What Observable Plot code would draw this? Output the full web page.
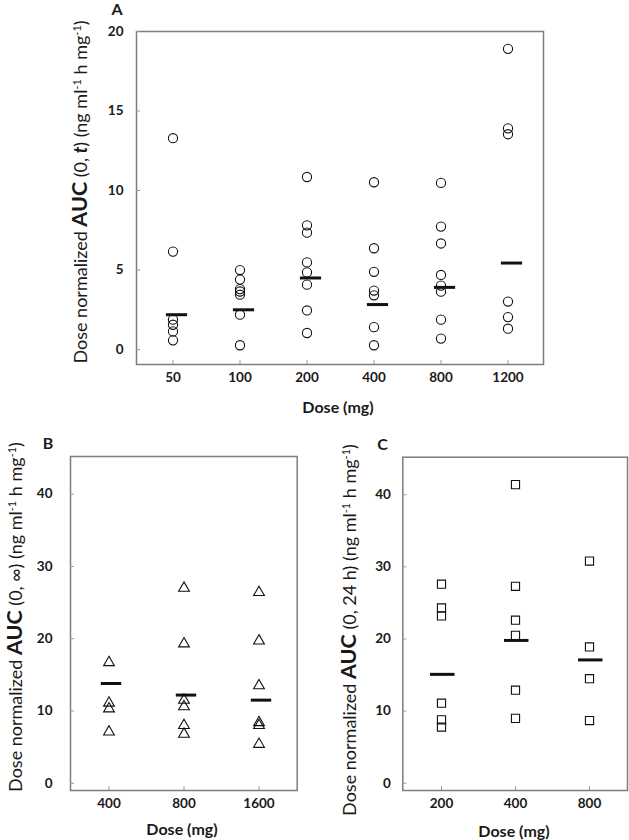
<!DOCTYPE html>
<html><head><meta charset="utf-8">
<script src="https://cdn.jsdelivr.net/npm/d3@7"></script>
<script src="https://cdn.jsdelivr.net/npm/@observablehq/plot@0.6"></script>
<style>
body{margin:0;background:#fff;}
#wrap{position:relative;width:629px;height:840px;font-family:Lato,sans-serif;}
#wrap svg{position:absolute;}
</style></head><body><div id="wrap"></div>
<script>
// ---- Data ----
const dosesA = ["50","100","200","400","800","1200"];
const aucA = [
  [13.29, 6.16, 1.88, 1.56, 1.14, 0.58],
  [5.0, 4.4, 3.8, 3.65, 3.45, 2.19, 0.27],
  [10.85, 7.81, 7.35, 5.48, 4.85, 4.08, 2.46, 1.04],
  [10.52, 6.37, 4.89, 3.71, 3.41, 1.41, 0.27],
  [10.48, 7.73, 6.67, 4.69, 4.02, 3.64, 1.88, 0.69],
  [18.91, 13.91, 13.54, 3.02, 2.04, 1.31]
];
const gmeanA = [2.19, 2.5, 4.5, 2.83, 3.91, 5.44];
const yTicksA = [0, 5, 10, 15, 20];

const dosesB = ["400","800","1600"];
const aucB = [
  [16.7, 11.1, 10.3, 7.1],
  [27.0, 19.3, 11.5, 10.6, 8.0, 6.8],
  [26.4, 19.7, 13.5, 8.4, 8.0, 5.4]
];
const gmeanB = [13.8, 12.2, 11.5];

const dosesC = ["200","400","800"];
const aucC = [
  [27.6, 24.3, 23.2, 11.1, 8.8, 7.8],
  [41.4, 27.3, 22.6, 20.5, 12.9, 9.0],
  [30.8, 18.9, 14.5, 8.7]
];
const gmeanC = [15.1, 19.8, 17.1];
const yTicksBC = [0, 10, 20, 30, 40];

const wrap = document.getElementById("wrap");
const INK = "#1a1a1a";

function panel(o) {
  const pts = o.doses.flatMap((d, i) => o.vals[i].map(v => ({dose: d, v})));
  const gms = o.doses.map((d, i) => ({dose: d, g: o.gm[i]}));
  const chart = Plot.plot({
    width: o.width, height: o.height,
    marginLeft: o.ml, marginRight: o.mr, marginTop: o.mt, marginBottom: o.mb,
    style: {fontFamily: "Lato, sans-serif", fontSize: "13.5px", color: INK, background: "transparent", overflow: "visible"},
    x: {type: "band", domain: o.doses, padding: 0, label: null},
    y: {domain: o.yDomain, label: null},
    marks: [
      Plot.frame({stroke: "#7d7d7d", strokeWidth: 1.5}),
      Plot.axisX({tickSize: 4, dy: -4, tickPadding: 8, stroke: "#9a9a9a", fill: INK, fontWeight: 700, label: null}),
      Plot.axisY(o.yTicks, {tickSize: 4, dx: 4, tickPadding: o.tp, stroke: "#9a9a9a", fill: INK, fontWeight: 700, label: null}),
      Plot.dot(pts, {x: "dose", y: "v", symbol: o.symbol, r: o.r, stroke: "#111", strokeWidth: 1.1, fill: "none"}),
      Plot.tickY(gms, {x: "dose", y: "g", stroke: "#111", strokeWidth: 3, insetLeft: o.insL, insetRight: o.insR})
    ]
  });
  chart.style.left = o.left + "px";
  chart.style.top = o.top + "px";
  wrap.appendChild(chart);
  const svg = d3.select(chart);
  // y label
  const t = svg.append("text")
    .attr("transform", `translate(${o.ylx},${o.yly}) rotate(-90)`)
    .attr("text-anchor", "middle").attr("dy", "0.35em")
    .attr("font-size", 18).attr("fill", INK).attr("font-family", "Lato, sans-serif");
  t.append("tspan").text("Dose normalized ");
  t.append("tspan").attr("font-weight", 700).attr("font-size", 21.5).text("AUC");
  t.append("tspan").text(" (0, ");
  o.inner(t);
  t.append("tspan").text(") (ng ml");
  t.append("tspan").attr("baseline-shift", "super").attr("font-size", 11).text("-1");
  t.append("tspan").text(" h mg");
  t.append("tspan").attr("baseline-shift", "super").attr("font-size", 11).text("-1");
  t.append("tspan").text(")");
  // x label
  svg.append("text").attr("x", o.xlx).attr("y", o.xly).attr("dy", "0.35em")
    .attr("text-anchor", "middle").attr("font-size", 16).attr("font-weight", 700)
    .attr("fill", INK).attr("font-family", "Lato, sans-serif").text("Dose (mg)");
  // panel letter
  svg.append("text").attr("x", o.lx).attr("y", o.ly).attr("dy", "0.35em")
    .attr("text-anchor", "middle").attr("font-size", 16).attr("font-weight", 700)
    .attr("fill", INK).attr("font-family", "Lato, sans-serif").text(o.letter);
}

panel({
  doses: dosesA, vals: aucA, gm: gmeanA, yDomain: [-0.94, 20], yTicks: yTicksA,
  width: 629, height: 420, ml: 136, mr: 86, mt: 31, mb: 56, tp: 13,
  symbol: "circle", r: 4.6, insL: 26.9, insR: 18.9,
  left: 0, top: 0, ylx: 81, yly: 192, xlx: 338, xly: 407, lx: 117, ly: 9, letter: "A",
  inner: t => t.append("tspan").attr("font-weight", 700).attr("font-style", "italic").text("t")
});
panel({
  doses: dosesB, vals: aucB, gm: gmeanB, yDomain: [-1, 45.2], yTicks: yTicksBC,
  width: 315, height: 420, ml: 70, mr: 18.3, mt: 36, mb: 50, tp: 18,
  symbol: "triangle", r: 4, insL: 29.8, insR: 24.8,
  left: 0, top: 420, ylx: 16, yly: 197, xlx: 182, xly: 409, lx: 48, ly: 23, letter: "B",
  inner: t => t.append("tspan").text("\u221e")
});
panel({
  doses: dosesC, vals: aucC, gm: gmeanC, yDomain: [-1, 45.2], yTicks: yTicksBC,
  width: 314, height: 420, ml: 87.3, mr: 2, mt: 36.7, mb: 50, tp: 12,
  symbol: "square", r: 4.6, insL: 26, insR: 23.5,
  left: 315, top: 420, ylx: 35, yly: 210, xlx: 199, xly: 411, lx: 67.5, ly: 24, letter: "C",
  inner: t => t.append("tspan").text("24 h")
});
</script>
</body></html>
